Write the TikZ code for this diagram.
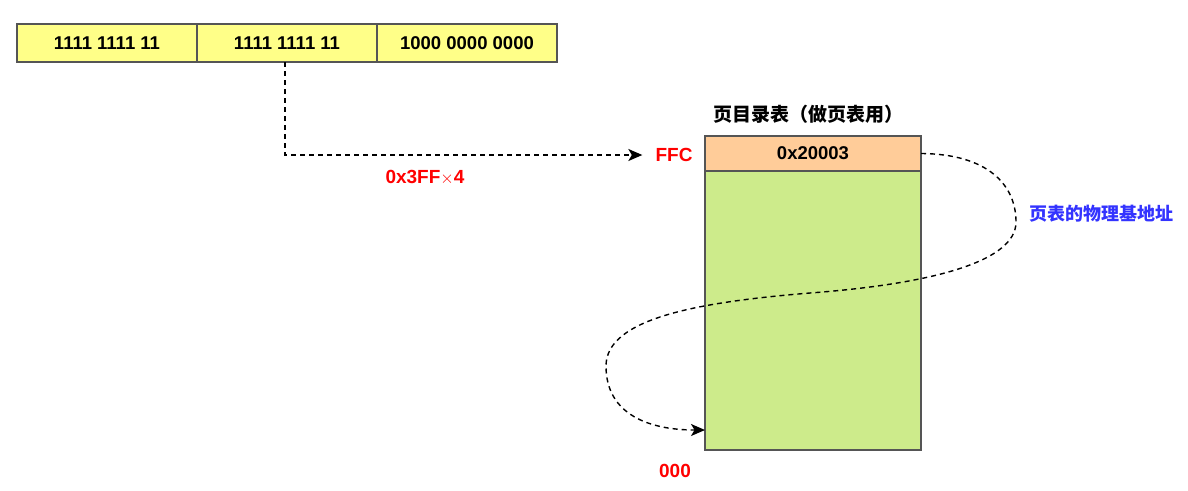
\documentclass[tikz,border=0pt]{standalone}
\usepackage{fontspec}
\setmainfont{Liberation Sans}
\newfontfamily\cjk{Noto Sans CJK SC}
\usetikzlibrary{arrows.meta,calc}
\definecolor{boxyellow}{HTML}{FFFF88}
\definecolor{boxorange}{HTML}{FFCC99}
\definecolor{boxgreen}{HTML}{CDEB8B}
\definecolor{edgegray}{HTML}{555555}
\definecolor{lblred}{HTML}{FF0000}
\definecolor{lblblue}{HTML}{3333FF}
\tikzset{
  cell/.style={draw=edgegray, line width=1.4pt, inner sep=0pt, outer sep=0pt,
    font=\fontsize{18.5}{20}\selectfont\bfseries},
  bitcell/.style={cell, fill=boxyellow, minimum width=180pt, minimum height=38pt},
  redlbl/.style={text=lblred, font=\fontsize{19}{20}\selectfont\bfseries, inner sep=2pt},
  dashconn/.style={draw=black, line width=1.4pt, dash pattern=on 5pt off 4pt,
    -{Stealth[length=14pt,width=12pt,inset=3.5pt]}},
}
\begin{document}
\begin{tikzpicture}[x=1pt,y=-1pt]
\useasboundingbox (0,0) rectangle (1188,490);
% address bit fields
\node[bitcell] (b1) at (107,43) {1111 1111 11};
\node[bitcell] (b2) at (287,43) {1111 1111 11};
\node[bitcell] (b3) at (467,43) {1000 0000 0000};
% page directory table
\node[cell, fill=boxgreen, minimum width=216pt, minimum height=279pt] (body) at (813,310.5) {};
\node[cell, fill=boxorange, minimum width=216pt, minimum height=35pt] (hdr) at (813,153.5) {0x20003};
\node[font=\fontsize{19}{20}\selectfont\cjk\bfseries] (title) at (808,114) {页目录表（做页表用）};
% labels
\node[redlbl] (ffc) at (674,155) {FFC};
\node[redlbl] (zero) at (675,471) {000};
\node[redlbl] (mul) at (425,178) {0x3FF$\times$4};
\node[text=lblblue, font=\fontsize{18}{20}\selectfont\cjk\bfseries, anchor=west] (phys) at (1026,214) {页表的物理基地址};
% connectors
\draw[dashconn, shorten >=11pt] ([xshift=-2pt]b2.south) |- (ffc.west);
\coordinate (tgt) at ([yshift=20pt]body.south west);
\draw[dashconn] (hdr.east) .. controls (988,154) and (1016,185) .. (1016,222)
  .. controls (1016,262) and (930,284) .. (810,293)
  .. controls (700,302) and (606,318) .. (606,366)
  .. controls (606,415) and (650,430) .. (tgt);
\end{tikzpicture}
\end{document}
